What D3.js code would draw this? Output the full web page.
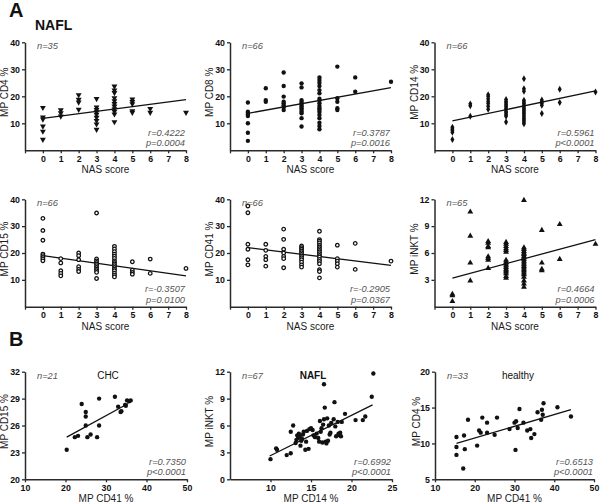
<!DOCTYPE html>
<html><head><meta charset="utf-8">
<script src="https://cdn.jsdelivr.net/npm/d3@7"></script>
<style>
html,body{margin:0;padding:0;background:#fff;}
svg{display:block;font-family:"Liberation Sans",Arial,sans-serif;}
</style></head>
<body><svg id="c" width="600" height="504"></svg>
<script>
// ---------- DATA ----------
const nasScores = [0, 1, 2, 3, 4, 5, 6, 8];
const nasTickValues = [-1, 0, 1, 2, 3, 4, 5, 6, 7, 8];

const cd4ByNas = [
  [15.8, 12.3, 11.5, 8.9, 7.0, 4.0],
  [14.9, 13.8, 12.6],
  [20.5, 18.8, 17.8, 15.1],
  [19.1, 16.0, 15.0, 14.2, 13.3, 12.2, 11.0, 9.7, 7.7],
  [23.7, 22.3, 21.3, 19.4, 18.3, 17.3, 16.3, 15.3, 14.4, 13.4, 10.5],
  [18.9, 18.0, 17.2, 14.6, 14.0],
  [15.4, 14.0],
  [14.0]
];
const cd8ByNas = [
  [17.7, 14.3, 13.8, 13.3, 12.7, 10.0, 6.5, 3.5],
  [23.0, 18.6, 18.0],
  [28.8, 23.8, 19.9, 18.0, 17.4, 16.7, 15.9, 14.9],
  [24.8, 23.3, 18.6, 18.0, 17.4, 16.8, 16.2, 15.6, 14.9, 14.3, 13.7, 11.9, 8.8],
  [27.0, 26.0, 25.0, 23.8, 22.3, 21.1, 19.1, 18.4, 17.4, 16.4, 15.6, 14.9, 14.2, 13.1, 11.9, 10.2, 9.0, 7.8],
  [31.0, 19.3, 18.0, 15.6, 14.9],
  [27.0, 21.7],
  [25.4]
];
const cd14ByNas = [
  [8.5, 7.9, 7.3, 6.7, 4.0],
  [17.2, 16.5, 12.6],
  [20.6, 19.9, 19.0, 18.1, 17.3, 16.3, 15.2],
  [18.8, 18.1, 17.5, 16.9, 16.3, 15.7, 15.1, 14.4, 13.8, 13.2, 12.6, 10.5],
  [26.5, 22.8, 21.9, 18.5, 17.9, 17.3, 16.7, 16.0, 15.4, 14.8, 14.2, 13.6, 13.0, 12.3, 11.7, 11.1, 10.5, 9.8],
  [18.6, 18.0, 17.4, 16.7, 13.6],
  [22.6, 17.7],
  [21.6]
];
const cd15ByNas = [
  [32.9, 28.4, 24.75, 19.6, 19.0, 18.4, 17.8, 17.1],
  [17.9, 16.3, 13.4, 12.4, 11.5],
  [20.0, 19.0, 17.5, 14.9, 13.9, 13.1],
  [34.9, 17.8, 17.1, 16.5, 15.9, 15.3, 14.6, 14.0, 13.4, 12.8, 10.5],
  [22.5, 21.5, 20.5, 19.6, 18.8, 18.0, 17.1, 16.5, 15.9, 15.3, 14.6, 14.0, 13.4, 12.5, 11.75, 11.1],
  [16.75, 13.6, 12.75, 12.1],
  [17.75, 12.4],
  [14.25]
];
const cd41ByNas = [
  [37.5, 35.0, 23.25, 21.4, 17.5, 15.6],
  [23.25, 21.0, 18.75, 17.5, 15.1],
  [28.9, 25.1, 21.4, 20.0, 18.75, 17.9, 14.5],
  [22.6, 22.0, 21.4, 20.75, 20.1, 19.5, 18.9, 18.25, 17.5, 16.6, 15.6, 14.75],
  [28.1, 25.0, 24.4, 23.75, 22.9, 22.25, 21.6, 21.0, 20.4, 19.75, 19.1, 18.5, 17.6, 16.9, 16.0, 13.75, 13.1, 10.75],
  [22.9, 17.9, 17.0, 16.0, 14.75],
  [23.6, 13.9],
  [17.0]
];
const inktByNas = [
  [1.4, 1.25, 0.6],
  [10.6, 7.9, 4.9, 2.9],
  [7.3, 7.1, 6.75, 6.6, 5.6, 5.4, 5.2, 4.3],
  [7.2, 7.0, 6.75, 6.5, 6.3, 6.1, 5.2, 5.0, 4.8, 4.6, 4.4, 4.2, 4.05, 3.9, 3.7, 3.4, 3.2],
  [11.9, 6.6, 6.4, 6.2, 6.0, 5.85, 5.65, 5.5, 5.3, 5.1, 4.9, 4.7, 4.5, 4.35, 4.15, 4.0, 3.8, 3.6, 3.3, 2.9, 2.55, 2.2],
  [8.55, 4.9, 4.2, 4.05],
  [9.2, 5.3],
  [7.0]
];

// B: CHC (MP CD41 % vs MP CD15 %)
const chcCD41 = [20.3, 22.3, 23.1, 24.0, 25.0, 25.0, 25.0, 25.4, 26.2, 27.8, 28.3, 28.3, 32.2, 33.0, 33.6, 33.8, 34.7, 34.9, 35.2, 35.7, 36.1];
const chcCD15 = [23.3, 24.7, 24.85, 28.4, 27.5, 27.0, 26.0, 24.7, 25.0, 24.7, 29.0, 26.0, 29.2, 28.1, 27.5, 27.6, 28.3, 28.2, 28.8, 28.7, 28.8];
// B: NAFL (MP CD14 % vs MP iNKT %)
const naflCD14 = [10.0, 10.7, 10.8, 12.0, 12.5, 12.5, 12.8, 13.1, 13.2, 13.3, 13.4, 13.5, 13.6, 13.7, 13.8, 13.9, 14.0, 14.1, 14.3, 14.4, 14.5, 14.7, 14.8, 15.0, 15.2, 15.3, 15.5, 15.7, 15.9, 16.0, 16.1, 16.2, 16.3, 16.4, 16.5, 16.6, 16.6, 16.7, 16.8, 16.9, 17.0, 17.1, 17.2, 17.3, 17.4, 17.5, 17.8, 17.9, 18.0, 18.1, 18.3, 18.4, 18.5, 18.6, 18.7, 18.8, 19.2, 20.5, 21.4, 21.7, 22.5, 22.7];
const naflINKT = [2.25, 3.45, 3.3, 2.7, 2.9, 5.3, 6.0, 4.05, 4.4, 4.9, 4.6, 5.1, 4.8, 3.75, 4.3, 4.5, 5.0, 5.3, 3.3, 4.2, 5.4, 3.4, 5.6, 5.7, 5.5, 4.9, 4.7, 5.1, 4.6, 4.2, 6.5, 5.3, 5.7, 4.1, 6.1, 6.7, 10.6, 8.0, 4.2, 4.0, 6.8, 4.3, 6.0, 5.0, 5.2, 6.3, 6.7, 8.6, 5.9, 4.8, 6.4, 5.1, 4.9, 5.2, 4.8, 6.4, 7.3, 6.6, 6.6, 7.0, 9.2, 11.8];
// B: healthy (MP CD41 % vs MP CD4 %)
const healthyCD41 = [15.4, 15.4, 15.4, 17.1, 17.3, 17.5, 18.3, 20.6, 21.1, 21.5, 21.9, 23.1, 23.1, 25.6, 25.0, 28.75, 30.0, 30.4, 30.25, 30.8, 31.25, 32.25, 33.2, 34.0, 34.2, 35.0, 35.8, 36.7, 36.9, 37.1, 37.3, 40.8, 44.2];
const healthyCD4 = [10.9, 9.5, 8.4, 6.5, 11.1, 9.2, 13.3, 9.7, 11.8, 11.5, 13.6, 12.9, 11.5, 13.6, 11.2, 12.0, 12.9, 13.1, 9.1, 12.15, 14.8, 12.9, 11.8, 12.0, 10.75, 11.3, 14.35, 13.3, 14.7, 14.0, 15.6, 15.05, 13.75];

// regression lines: [x0, y0, x1, y1]
const fitCD4 = [0, 11.85, 8, 18.8];
const fitCD8 = [0, 13.7, 8, 23.2];
const fitCD14 = [0, 10.9, 8, 22.0];
const fitCD15 = [0, 19.0, 8, 11.5];
const fitCD41 = [0, 22.0, 8, 15.4];
const fitINKT = [0, 3.2, 8, 7.5];
const fitCHC = [20.3, 24.7, 35.5, 28.45];
const fitNAFL = [9.9, 2.6, 22.6, 8.3];
const fitHealthy = [15.4, 10.0, 44.2, 14.7];

// stats text
const nLabels = ["n=35", "n=66", "n=66", "n=66", "n=66", "n=65", "n=21", "n=67", "n=33"];
const rLabels = ["r=0.4222", "r=0.3787", "r=0.5961", "r=-0.3507", "r=-0.2905", "r=0.4664", "r=0.7350", "r=0.6992", "r=0.6513"];
const pLabels = ["p=0.0004", "p=0.0016", "p<0.0001", "p=0.0100", "p=0.0367", "p=0.0006", "p<0.0001", "p<0.0001", "p<0.0001"];
const yTitles = ["MP CD4 %", "MP CD8 %", "MP CD14 %", "MP CD15 %", "MP CD41 %", "MP iNKT %", "MP CD15 %", "MP iNKT %", "MP CD4 %"];
const xTitles = ["NAS score", "NAS score", "NAS score", "NAS score", "NAS score", "NAS score", "MP CD41 %", "MP CD14 %", "MP CD41 %"];
const groupTitles = ["", "", "", "", "", "", "CHC", "NAFL", "healthy"];

// ---------- BUILD ----------
const svg = d3.select("#c");
const FONT = '"Liberation Sans", Arial, sans-serif';

function nasPoints(byNas) {
  const out = [];
  byNas.forEach((vals, i) => vals.forEach(v => out.push([nasScores[i], v])));
  return out;
}
function zipPoints(xs, ys) { return xs.map((x, i) => [x, ys[i]]); }

const colL = [25, 230, 434.5];
const rowTop = [42.3, 199.3, 371.7];
const rowBot = [150.3, 306.7, 479.3];

const panels = [
  {pts: nasPoints(cd4ByNas), fit: fitCD4, xd: [-1, 8], yd: [0, 40], yt: [10, 20, 30, 40], xt: nasTickValues, mk: "triDown"},
  {pts: nasPoints(cd8ByNas), fit: fitCD8, xd: [-1, 8], yd: [0, 40], yt: [10, 20, 30, 40], xt: nasTickValues, mk: "circle"},
  {pts: nasPoints(cd14ByNas), fit: fitCD14, xd: [-1, 8], yd: [0, 40], yt: [10, 20, 30, 40], xt: nasTickValues, mk: "diamond"},
  {pts: nasPoints(cd15ByNas), fit: fitCD15, xd: [-1, 8], yd: [0, 40], yt: [10, 20, 30, 40], xt: nasTickValues, mk: "open"},
  {pts: nasPoints(cd41ByNas), fit: fitCD41, xd: [-1, 8], yd: [0, 40], yt: [10, 20, 30, 40], xt: nasTickValues, mk: "open"},
  {pts: nasPoints(inktByNas), fit: fitINKT, xd: [-1, 8], yd: [0, 12], yt: [3, 6, 9, 12], xt: nasTickValues, mk: "triUp"},
  {pts: zipPoints(chcCD41, chcCD15), fit: fitCHC, xd: [10, 50], yd: [20, 32], yt: [20, 23, 26, 29, 32], xt: [10, 20, 30, 40, 50], mk: "circle"},
  {pts: zipPoints(naflCD14, naflINKT), fit: fitNAFL, xd: [5, 25], yd: [0, 12], yt: [0, 3, 6, 9, 12], xt: [10, 15, 20, 25], mk: "circle"},
  {pts: zipPoints(healthyCD41, healthyCD4), fit: fitHealthy, xd: [10, 50], yd: [5, 20], yt: [5, 10, 15, 20], xt: [10, 20, 30, 40, 50], mk: "circle"}
];

panels.forEach((p, i) => {
  const row = Math.floor(i / 3), col = i % 3;
  const left = colL[col] + (row === 2 && col === 2 ? 0.5 : 0);
  const w = (row === 2 && col === 2) ? 159 : (row === 2 ? 162 : 161);
  const top = rowTop[row], bot = rowBot[row];
  const x = d3.scaleLinear().domain(p.xd).range([left, left + w]);
  const y = d3.scaleLinear().domain(p.yd).range([bot, top]);
  const g = svg.append("g");

  // axes
  const xa = d3.axisBottom(x).tickValues(p.xt).tickSize(3).tickSizeOuter(0).tickPadding(2)
    .tickFormat(d => d < 0 ? "" : d);
  const ya = d3.axisLeft(y).tickValues(p.yt).tickSize(3).tickSizeOuter(0).tickPadding(2);
  const gx = g.append("g").attr("transform", `translate(0,${bot})`).call(xa);
  const gy = g.append("g").attr("transform", `translate(${left},0)`).call(ya);
  [gx, gy].forEach(a => {
    a.select(".domain").attr("stroke", "#2a2a2a").attr("stroke-width", 1.5);
    a.selectAll(".tick line").attr("stroke", "#2a2a2a").attr("stroke-width", 1.3);
    a.selectAll(".tick text").attr("font-family", FONT).attr("font-size", 8.8)
      .attr("font-weight", "bold").attr("fill", "#111");
  });

  // fit line
  g.append("line")
    .attr("x1", x(p.fit[0])).attr("y1", y(p.fit[1]))
    .attr("x2", x(p.fit[2])).attr("y2", y(p.fit[3]))
    .attr("stroke", "#111").attr("stroke-width", 1.3);

  // markers
  const sel = g.append("g").selectAll("path").data(p.pts).join("path");
  let gen, rot = 0;
  if (p.mk === "triDown") { gen = d3.symbol(d3.symbolTriangle, 15); rot = 180; }
  else if (p.mk === "triUp") gen = d3.symbol(d3.symbolTriangle, 15);
  else if (p.mk === "diamond") gen = d3.symbol(d3.symbolDiamond, 14);
  else if (p.mk === "open") gen = d3.symbol(d3.symbolCircle, 10);
  else gen = d3.symbol(d3.symbolCircle, 15);
  sel.attr("d", gen)
    .attr("transform", d => `translate(${x(d[0])},${y(d[1])}) rotate(${rot})`);
  if (p.mk === "open") sel.attr("fill", "#fff").attr("stroke", "#111").attr("stroke-width", 1.25);
  else sel.attr("fill", "#111");

  // annotations
  g.append("text").attr("x", left + 12).attr("y", top + 7)
    .attr("font-family", FONT).attr("font-style", "italic").attr("font-size", 9.3)
    .attr("fill", "#555").text(nLabels[i]);
  g.append("text").attr("x", left + w - 1).attr("y", bot - 14.5).attr("text-anchor", "end")
    .attr("font-family", FONT).attr("font-style", "italic").attr("font-size", 9.3)
    .attr("fill", "#555").text(rLabels[i]);
  g.append("text").attr("x", left + w - 1).attr("y", bot - 4).attr("text-anchor", "end")
    .attr("font-family", FONT).attr("font-style", "italic").attr("font-size", 9.3)
    .attr("fill", "#555").text(pLabels[i]);
  if (groupTitles[i]) {
    g.append("text").attr("x", left + 83).attr("y", top + 7).attr("text-anchor", "middle")
      .attr("font-family", FONT).attr("font-size", 10)
      .attr("font-weight", groupTitles[i] === "NAFL" ? "bold" : "normal")
      .attr("fill", "#111").text(groupTitles[i]);
  }
  // axis titles
  g.append("text").attr("x", left + w / 2).attr("y", row === 2 ? 502 : bot + 23)
    .attr("text-anchor", "middle").attr("font-family", FONT).attr("font-size", 10)
    .attr("fill", "#1a1a1a").text(xTitles[i]);
  const ty = (top + bot) / 2 - 4;
  const tx = left - (i === 8 ? 15 : 17);
  g.append("text").attr("transform", `translate(${tx},${ty}) rotate(-90)`)
    .attr("text-anchor", "middle").attr("font-family", FONT).attr("font-size", 10)
    .attr("fill", "#1a1a1a").text(yTitles[i]);
});

// section labels
svg.append("text").attr("x", 9).attr("y", 17).attr("font-family", FONT)
  .attr("font-size", 20).attr("font-weight", "bold").attr("fill", "#111").text("A");
svg.append("text").attr("x", 35).attr("y", 30).attr("font-family", FONT)
  .attr("font-size", 14).attr("font-weight", "bold").attr("fill", "#111").text("NAFL");
svg.append("text").attr("x", 9).attr("y", 346).attr("font-family", FONT)
  .attr("font-size", 20).attr("font-weight", "bold").attr("fill", "#111").text("B");
</script></body></html>
